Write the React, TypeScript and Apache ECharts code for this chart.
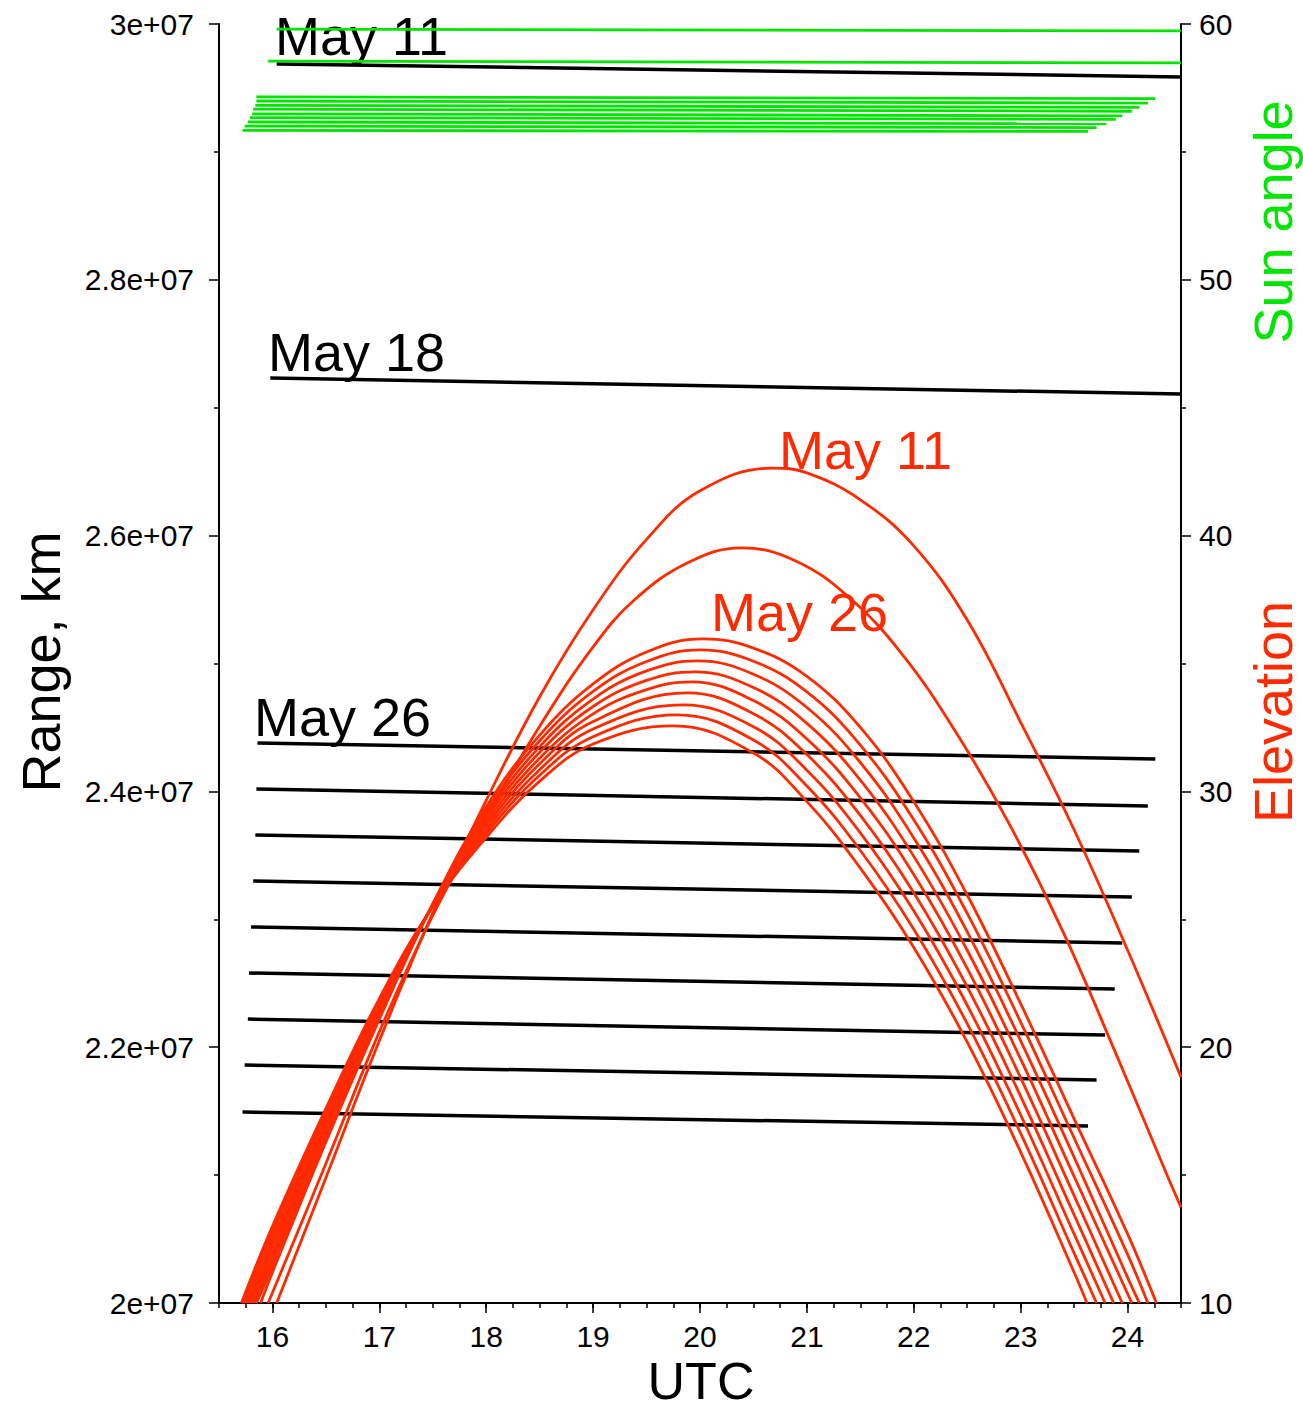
import React, { useEffect, useRef } from 'react';
import * as echarts from 'echarts';

// ---------- axes ----------
const UTC_TICKS = [16, 17, 18, 19, 20, 21, 22, 23, 24];
const RANGE_TICK_LABELS = ['2e+07', '2.2e+07', '2.4e+07', '2.6e+07', '2.8e+07', '3e+07'];
const ANGLE_TICK_LABELS = ['10', '20', '30', '40', '50', '60'];

// ---------- range (km) lines, left axis ----------
const rangeMay11 = [[16.04, 2.9687e7], [24.5, 2.9586e7]];
const rangeMay18 = [[15.98, 2.7232e7], [24.5, 2.7107e7]];
const rangeD0 = [[15.72, 2.1493e7], [23.63, 2.1384e7]];
const rangeD1 = [[15.74, 2.1861e7], [23.71, 2.1744e7]];
const rangeD2 = [[15.77, 2.222e7], [23.79, 2.2095e7]];
const rangeD3 = [[15.78, 2.258e7], [23.88, 2.2455e7]];
const rangeD4 = [[15.8, 2.294e7], [23.95, 2.2815e7]];
const rangeD5 = [[15.82, 2.3299e7], [24.04, 2.3174e7]];
const rangeD6 = [[15.84, 2.3659e7], [24.11, 2.3534e7]];
const rangeD7 = [[15.85, 2.4019e7], [24.19, 2.3886e7]];
const rangeD8 = [[15.86, 2.4378e7], [24.26, 2.4253e7]];

// ---------- sun angle lines, right axis ----------
const sunMay11 = [[16.04, 59.8], [24.5, 59.73]];
const sunMay18 = [[15.96, 58.55], [24.5, 58.48]];
const sunD0 = [[15.72, 55.84], [23.63, 55.8]];
const sunD1 = [[15.74, 56.01], [23.71, 55.95]];
const sunD2 = [[15.77, 56.17], [23.8, 56.1]];
const sunD3 = [[15.79, 56.34], [23.89, 56.27]];
const sunD4 = [[15.81, 56.49], [23.95, 56.41]];
const sunD5 = [[15.82, 56.67], [24.04, 56.59]];
const sunD6 = [[15.84, 56.82], [24.11, 56.74]];
const sunD7 = [[15.85, 56.99], [24.19, 56.91]];
const sunD8 = [[15.85, 57.15], [24.26, 57.08]];

// ---------- elevation curves, right axis ----------
const elevMay11 = [[16.04, 10], [16.5, 14.9], [17.0, 20.25], [17.5, 25.25], [18.0, 29.65], [18.5, 33.7], [19.0, 37.1], [19.5, 39.85], [20.0, 41.75], [20.68, 42.64], [21.0, 42.45], [21.5, 41.4], [22.0, 39.6], [22.5, 36.7], [23.0, 32.7], [23.5, 28.5], [24.0, 23.8], [24.5, 18.83]];
const elevMay18 = [[15.96, 10], [16.5, 15.45], [17.0, 20.6], [17.5, 25.15], [18.0, 29.0], [18.5, 32.55], [19.0, 35.65], [19.39, 37.5], [19.89, 38.95], [20.39, 39.52], [20.89, 39.02], [21.39, 37.6], [21.89, 35.37], [22.39, 32.34], [22.89, 28.75], [23.39, 24.57], [23.89, 19.76], [24.39, 14.8], [24.5, 13.75]];
const elevD0 = [[15.71, 10], [16.0, 13.0], [16.5, 17.6], [17.0, 21.9], [17.5, 25.5], [18.0, 28.2], [18.5, 30.4], [19.0, 31.85], [19.75, 32.56], [20.5, 31.5], [21.0, 29.6], [21.5, 27.0], [22.0, 23.9], [22.5, 20.2], [23.0, 15.9], [23.5, 11.2], [23.62, 10]];
const elevD1 = [[15.73, 10], [16.0, 12.78], [16.5, 17.44], [17.0, 21.8], [17.5, 25.51], [18.0, 28.35], [18.5, 30.63], [19.0, 32.14], [19.79, 32.99], [20.5, 32.01], [21.0, 30.21], [21.5, 27.69], [22.0, 24.61], [22.5, 20.92], [23.0, 16.63], [23.5, 11.95], [23.71, 10]];
const elevD2 = [[15.75, 10], [16.0, 12.55], [16.5, 17.28], [17.0, 21.7], [17.5, 25.53], [18.0, 28.5], [18.5, 30.85], [19.0, 32.44], [19.84, 33.38], [20.5, 32.53], [21.0, 30.83], [21.5, 28.38], [22.0, 25.33], [22.5, 21.64], [23.0, 17.35], [23.5, 12.7], [23.79, 10]];
const elevD3 = [[15.77, 10], [16.0, 12.33], [16.5, 17.11], [17.0, 21.6], [17.5, 25.54], [18.0, 28.65], [18.5, 31.08], [19.0, 32.73], [19.88, 33.85], [20.5, 33.04], [21.0, 31.44], [21.5, 29.06], [22.0, 26.04], [22.5, 22.36], [23.0, 18.08], [23.5, 13.45], [23.87, 10]];
const elevD4 = [[15.79, 10], [16.0, 12.1], [16.5, 16.95], [17.0, 21.5], [17.5, 25.55], [18.0, 28.8], [18.5, 31.3], [19.0, 33.03], [19.5, 33.98], [19.92, 34.28], [20.5, 33.55], [21.0, 32.05], [21.5, 29.75], [22.0, 26.75], [22.5, 23.08], [23.0, 18.8], [23.5, 14.2], [23.95, 10]];
const elevD5 = [[15.81, 10], [16.0, 11.88], [16.5, 16.79], [17.0, 21.4], [17.5, 25.56], [18.0, 28.95], [18.5, 31.53], [19.0, 33.32], [19.5, 34.34], [19.95, 34.67], [20.5, 34.06], [21.0, 32.66], [21.5, 30.44], [22.0, 27.46], [22.5, 23.79], [23.0, 19.53], [23.5, 14.95], [24.04, 10]];
const elevD6 = [[15.83, 10], [16.0, 11.65], [16.5, 16.63], [17.0, 21.3], [17.5, 25.58], [18.0, 29.1], [18.5, 31.75], [19.0, 33.61], [19.5, 34.71], [19.98, 35.1], [20.5, 34.58], [21.0, 33.28], [21.5, 31.13], [22.0, 28.18], [22.5, 24.51], [23.0, 20.25], [23.5, 15.7], [24.0, 11.0], [24.11, 10]];
const elevD7 = [[15.85, 10], [16.0, 11.43], [16.5, 16.46], [17.0, 21.2], [17.5, 25.59], [18.0, 29.25], [18.5, 31.98], [19.0, 33.91], [19.5, 35.08], [20.0, 35.53], [20.5, 35.09], [21.0, 33.89], [21.5, 31.81], [22.0, 28.89], [22.5, 25.23], [23.0, 20.98], [23.5, 16.45], [24.0, 11.9], [24.19, 10]];
const elevD8 = [[15.89, 10], [16.0, 11.2], [16.5, 16.3], [17.0, 21.1], [17.5, 25.6], [18.0, 29.4], [18.5, 32.2], [19.0, 34.2], [19.5, 35.45], [20.03, 35.96], [20.5, 35.6], [21.0, 34.5], [21.5, 32.5], [22.0, 29.6], [22.5, 25.95], [23.0, 21.7], [23.5, 17.2], [24.0, 12.7], [24.27, 10]];

const RANGE_LINES = [rangeMay11, rangeMay18, rangeD0, rangeD1, rangeD2, rangeD3, rangeD4, rangeD5, rangeD6, rangeD7, rangeD8];
const SUN_LINES = [sunMay11, sunMay18, sunD0, sunD1, sunD2, sunD3, sunD4, sunD5, sunD6, sunD7, sunD8];
const ELEV_LINES = [elevMay11, elevMay18, elevD0, elevD1, elevD2, elevD3, elevD4, elevD5, elevD6, elevD7, elevD8];

const RED = '#ff2a00';
const GREEN = '#00e600';
const FONT = '"Liberation Sans", Arial, Helvetica, sans-serif';

export default function App() {
  const ref = useRef<HTMLDivElement>(null);

  useEffect(() => {
    document.body.style.margin = '0';
    const chart = echarts.init(ref.current as HTMLDivElement, null, { renderer: 'svg' });

    const lineSeries = (data: number[][], yIdx: number, color: string, width: number, smooth: number | boolean) => ({
      type: 'line',
      xAxisIndex: 0,
      yAxisIndex: yIdx,
      data,
      symbol: 'none',
      showSymbol: false,
      smooth,
      silent: true,
      clip: true,
      z: 3,
      lineStyle: { color, width },
    });

    const series: any[] = [
      ...RANGE_LINES.map((d) => lineSeries(d, 0, '#000', 3.5, false)),
      ...SUN_LINES.map((d) => lineSeries(d, 1, GREEN, 2.8, false)),
      ...ELEV_LINES.map((d) => lineSeries(d, 1, RED, 2.8, 0.4)),
    ];

    const bigText = (text: string, x: number, y: number, color: string, rotate = false, center = false, size = 54) => ({
      type: 'text',
      x,
      y,
      z: 1,
      rotation: rotate ? Math.PI / 2 : 0,
      style: {
        text,
        fill: color,
        font: `${size}px ${FONT}`,
        lineHeight: 40,
        align: center ? 'center' : 'left',
        verticalAlign: 'middle',
        textAlign: center ? 'center' : 'left',
        textVerticalAlign: 'middle',
      },
    });

    const tickFont = { fontFamily: FONT, fontSize: 30, color: '#000' };

    chart.setOption({
      animation: false,
      backgroundColor: '#fff',
      grid: { left: 219, right: 122, top: 24, bottom: 106, containLabel: false, outerBoundsMode: 'none' },
      xAxis: [
        {
          type: 'value',
          position: 'bottom',
          min: 15.5,
          max: 24.5,
          axisLine: { show: true, onZero: false, lineStyle: { color: '#000', width: 2 } },
          axisTick: { show: true, length: 10, customValues: UTC_TICKS, lineStyle: { color: '#000', width: 1.5 } },
          axisLabel: { show: true, customValues: UTC_TICKS, margin: 18, ...tickFont, formatter: (v: number) => String(v) },
          splitLine: { show: false },
        },
        {
          type: 'value',
          position: 'bottom',
          min: 15.5,
          max: 24.5,
          interval: 0.25,
          axisLine: { show: false },
          axisTick: { show: true, length: 5, lineStyle: { color: '#000', width: 1.5 } },
          axisLabel: { show: false },
          splitLine: { show: false },
        },
      ],
      yAxis: [
        {
          type: 'value',
          position: 'left',
          min: 2e7,
          max: 3e7,
          interval: 2e6,
          axisLine: { show: true, onZero: false, lineStyle: { color: '#000', width: 2 } },
          axisTick: { show: true, length: 10, lineStyle: { color: '#000', width: 1.5 } },
          minorTick: { show: true, splitNumber: 2, length: 5, lineStyle: { color: '#000', width: 1.5 } },
          axisLabel: { margin: 25, ...tickFont, formatter: (_v: number, i: number) => RANGE_TICK_LABELS[i] },
          splitLine: { show: false },
        },
        {
          type: 'value',
          position: 'right',
          min: 10,
          max: 60,
          interval: 10,
          axisLine: { show: true, onZero: false, lineStyle: { color: '#000', width: 2 } },
          axisTick: { show: true, length: 10, lineStyle: { color: '#000', width: 1.5 } },
          minorTick: { show: true, splitNumber: 2, length: 5, lineStyle: { color: '#000', width: 1.5 } },
          axisLabel: { margin: 18, ...tickFont, formatter: (_v: number, i: number) => ANGLE_TICK_LABELS[i] },
          splitLine: { show: false },
        },
      ],
      graphic: [
        bigText('May 11', 275, 36, '#000'),
        bigText('May 18', 268, 352, '#000'),
        bigText('May 26', 254, 717, '#000'),
        bigText('May 11', 779, 450, RED),
        bigText('May 26', 711, 612, RED),
        bigText('Range, km', 41, 662, '#000', true, true),
        bigText('UTC', 701, 1381, '#000', false, true, 52),
        bigText('Sun angle', 1273, 222, GREEN, true, true),
        bigText('Elevation', 1273, 712, RED, true, true),
      ],
      series,
    });

    return () => chart.dispose();
  }, []);

  return <div ref={ref} style={{ width: 1303, height: 1409 }} />;
}
